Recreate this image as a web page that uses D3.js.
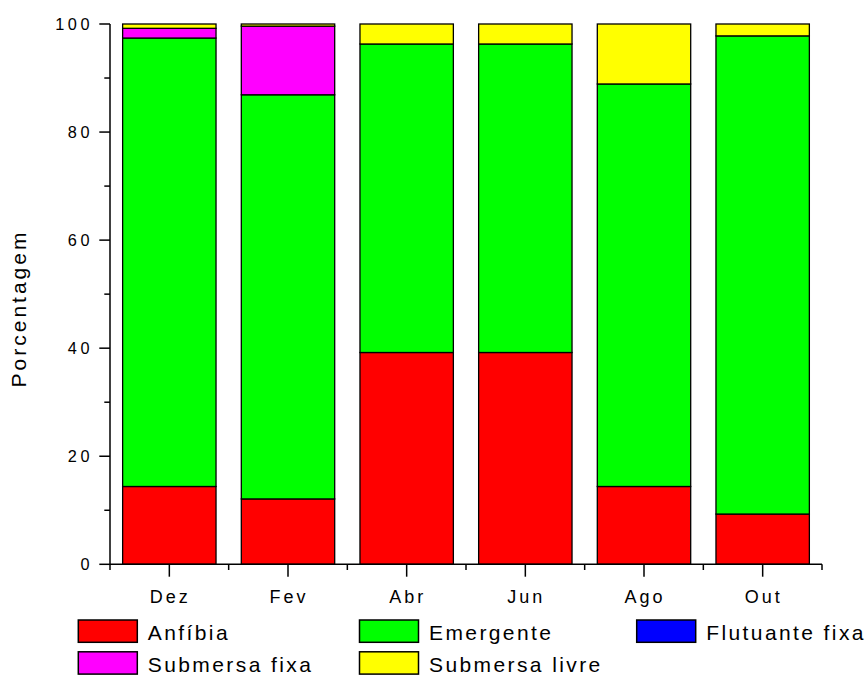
<!DOCTYPE html>
<html>
<head>
<meta charset="utf-8">
<script src="https://cdn.jsdelivr.net/npm/d3@7"></script>
<style>
  html, body { margin: 0; padding: 0; background: #fff; }
  svg { display: block; }
  text { font-family: "Liberation Sans", Arial, Helvetica, sans-serif; fill: #000; }
</style>
</head>
<body>
<svg id="chart" width="866" height="675"></svg>
<script>
// Months sampled
const categories = ["Dez", "Fev", "Abr", "Jun", "Ago", "Out"];

// Percentage of each life form per month
const anfibia        = [14.4, 12.1, 39.2, 39.2, 14.4,  9.3];
const emergente      = [83.0, 74.8, 57.1, 57.1, 74.5, 88.5];
const flutuanteFixa  = [ 0.0,  0.0,  0.0,  0.0,  0.0,  0.0];
const submersaFixa   = [ 1.8, 12.7,  0.0,  0.0,  0.0,  0.0];
const submersaLivre  = [ 0.8,  0.4,  3.7,  3.7, 11.1,  2.2];

const seriesNames  = ["Anfíbia", "Emergente", "Flutuante fixa", "Submersa fixa", "Submersa livre"];
const seriesColors = ["#ff0000", "#00ff00", "#0000ff", "#ff00ff", "#ffff00"];

const majorTicks = [0, 20, 40, 60, 80, 100];
const minorTicks = [10, 30, 50, 70, 90];

// Build rows for d3.stack
const seriesValues = [anfibia, emergente, flutuanteFixa, submersaFixa, submersaLivre];
const rows = categories.map((c, i) => {
  const r = { mes: c };
  seriesNames.forEach((s, j) => { r[s] = seriesValues[j][i]; });
  return r;
});

const svg = d3.select("#chart");
const plot = { left: 110, right: 822, top: 24, bottom: 564.3 };

const x = d3.scaleBand()
  .domain(categories)
  .range([plot.left, plot.right])
  .paddingInner(0.213)
  .paddingOuter(0.1065);

const y = d3.scaleLinear().domain([0, 100]).range([plot.bottom, plot.top]);

const stacked = d3.stack().keys(seriesNames)(rows);
const color = d3.scaleOrdinal().domain(seriesNames).range(seriesColors);

// Stacked bars
svg.append("g")
  .selectAll("g")
  .data(stacked)
  .join("g")
  .attr("fill", d => color(d.key))
  .selectAll("rect")
  .data(d => d.filter(p => p[1] - p[0] > 0))
  .join("rect")
  .attr("x", d => x(d.data.mes))
  .attr("width", x.bandwidth())
  .attr("y", d => y(d[1]))
  .attr("height", d => y(d[0]) - y(d[1]))
  .attr("stroke", "#000")
  .attr("stroke-width", 1.3);

// Y axis: line, major ticks with labels, minor ticks
const yAxis = svg.append("g").attr("stroke", "#000").attr("stroke-width", 1.5);
yAxis.append("line")
  .attr("x1", plot.left).attr("x2", plot.left)
  .attr("y1", y(100)).attr("y2", y(0));
yAxis.selectAll("line.major")
  .data(majorTicks).join("line").attr("class", "major")
  .attr("x1", plot.left - 10.7).attr("x2", plot.left)
  .attr("y1", d => y(d)).attr("y2", d => y(d));
yAxis.selectAll("line.minor")
  .data(minorTicks).join("line").attr("class", "minor")
  .attr("x1", plot.left - 5.7).attr("x2", plot.left)
  .attr("y1", d => y(d)).attr("y2", d => y(d));

const yLS = 3.6;
svg.append("g")
  .selectAll("text")
  .data(majorTicks)
  .join("text")
  .attr("x", 89.5 + yLS)
  .attr("y", d => y(d))
  .attr("dy", "0.36em")
  .attr("text-anchor", "end")
  .style("font-size", "16.3px")
  .style("letter-spacing", yLS + "px")
  .text(d => d);

// X axis: line, ticks at category centres, short ticks at band edges
const xAxis = svg.append("g").attr("stroke", "#000").attr("stroke-width", 1.5);
xAxis.append("line")
  .attr("x1", plot.left).attr("x2", plot.right)
  .attr("y1", y(0)).attr("y2", y(0));
xAxis.selectAll("line.major")
  .data(categories).join("line").attr("class", "major")
  .attr("x1", d => x(d) + x.bandwidth() / 2).attr("x2", d => x(d) + x.bandwidth() / 2)
  .attr("y1", y(0)).attr("y2", y(0) + 12.4);
const edges = d3.range(categories.length + 1).map(i => plot.left + i * x.step());
xAxis.selectAll("line.minor")
  .data(edges).join("line").attr("class", "minor")
  .attr("x1", d => d).attr("x2", d => d)
  .attr("y1", y(0)).attr("y2", y(0) + 5.7);

const xLS = 3;
svg.append("g")
  .selectAll("text")
  .data(categories)
  .join("text")
  .attr("x", d => x(d) + x.bandwidth() / 2 + xLS / 2 - 0.5)
  .attr("y", 602.7)
  .attr("text-anchor", "middle")
  .style("font-size", "18px")
  .style("letter-spacing", xLS + "px")
  .text(d => d);

// Y axis title
const tLS = 3.0;
svg.append("text")
  .attr("transform", `translate(25.5,${307 + tLS / 2}) rotate(-90)`)
  .attr("text-anchor", "middle")
  .style("font-size", "21px")
  .style("letter-spacing", tLS + "px")
  .text("Porcentagem");

// Legend: three columns, two rows
const legendCols = [78.3, 359.5, 636.7];
const legendRows = [620, 651.8];
const legend = svg.append("g")
  .selectAll("g")
  .data(seriesNames)
  .join("g")
  .attr("transform", (d, i) => `translate(${legendCols[i % 3]},${legendRows[Math.floor(i / 3)]})`);
legend.append("rect")
  .attr("width", 59).attr("height", 22.3)
  .attr("fill", d => color(d))
  .attr("stroke", "#000")
  .attr("stroke-width", 1.5);
legend.append("text")
  .attr("x", 69.5)
  .attr("y", 20)
  .style("font-size", "21px")
  .style("letter-spacing", "2.4px")
  .text(d => d);
</script>
</body>
</html>
